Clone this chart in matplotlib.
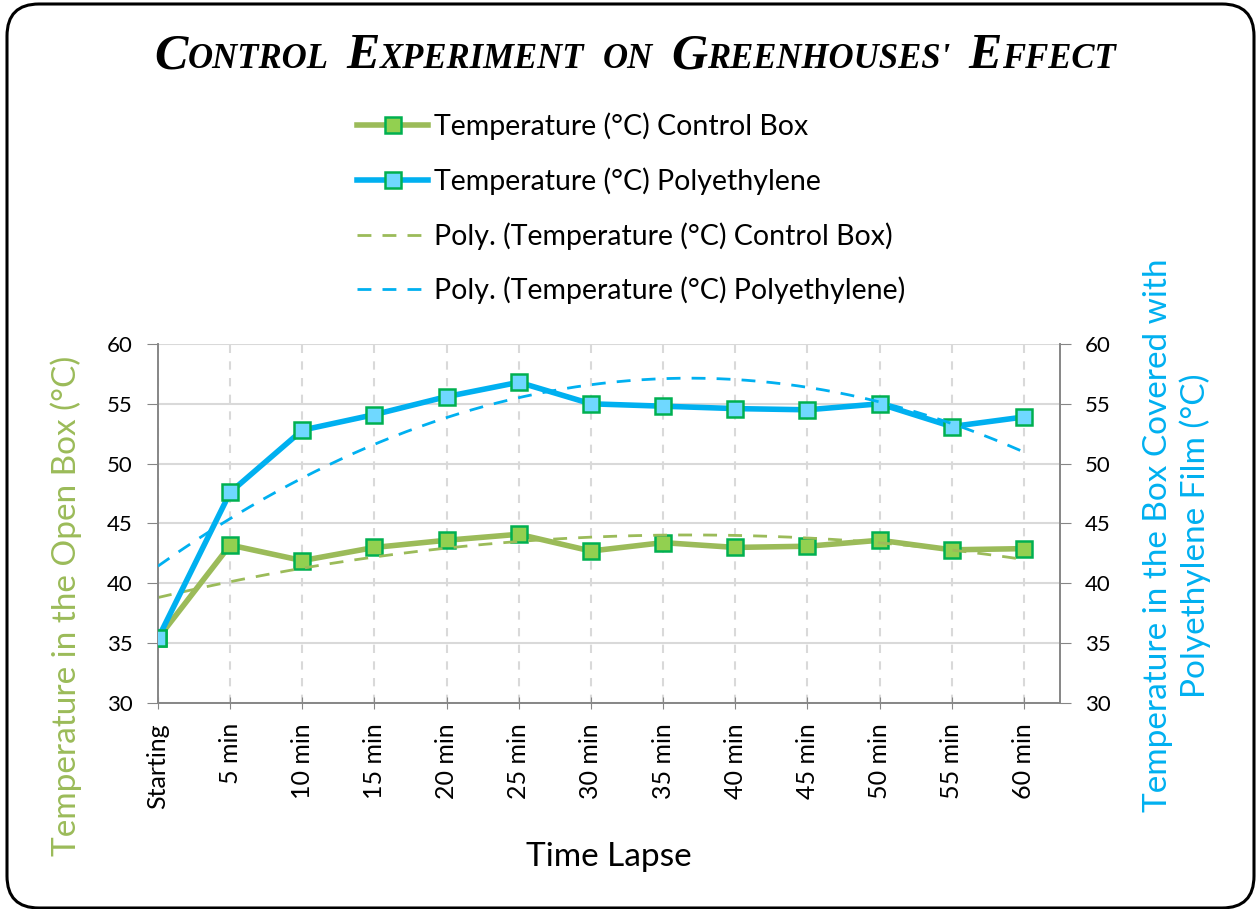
import numpy as np
import matplotlib
matplotlib.use('Agg')
import matplotlib.pyplot as plt
from matplotlib.patches import FancyBboxPatch
from matplotlib.lines import Line2D
from matplotlib.offsetbox import TextArea, HPacker, AnchoredOffsetbox

plt.rcParams['font.family'] = ['Lato', 'DejaVu Sans']

# data
categories = ['Starting', '5 min', '10 min', '15 min', '20 min', '25 min', '30 min',
              '35 min', '40 min', '45 min', '50 min', '55 min', '60 min']
control_box = [35.4, 43.2, 41.9, 43.0, 43.6, 44.1, 42.7, 43.4, 43.0, 43.1, 43.6, 42.8, 42.9]
polyethylene = [35.4, 47.6, 52.8, 54.1, 55.6, 56.8, 55.0, 54.8, 54.6, 54.5, 55.0, 53.1, 53.9]
y_ticks = [30, 35, 40, 45, 50, 55, 60]

green_line = '#9BBB59'
green_face = '#92D050'
blue_line = '#00B0F0'
blue_face = '#6FD8FF'
marker_edge = '#00B050'
grid_c = '#D9D9D9'
spine_c = '#868686'

x = np.arange(len(categories))
xs = np.linspace(0, len(categories) - 1, 200)

fig = plt.figure(figsize=(12.57, 9.09), dpi=100)

# rounded chart border
border = FancyBboxPatch((0.07, 0.01), 12.47, 9.04,
                        boxstyle='round,pad=0,rounding_size=0.32',
                        transform=fig.dpi_scale_trans, facecolor='white',
                        edgecolor='black', lw=2.2, zorder=-10)
fig.patches.append(border)

ax1 = fig.add_axes([0.1257, 0.2266, 0.7176, 0.395])
ax1.set_facecolor('none')
ax2 = ax1.twinx()

for ax in (ax1, ax2):
    ax.set_xlim(0, 12.5)
    ax.set_ylim(30, 60)
    ax.set_yticks(y_ticks)
    for s in ax.spines.values():
        s.set_color(spine_c)
        s.set_linewidth(1.2)
    ax.spines['top'].set_visible(False)

ax1.set_xticks(x)
ax1.set_xticklabels(categories, rotation=90, va='top')
ax1.tick_params(axis='x', direction='inout', length=9, color=spine_c, pad=10, labelsize=18)
ax1.tick_params(axis='y', direction='out', length=8, color=spine_c, labelsize=16, pad=10)
ax2.tick_params(axis='y', direction='out', length=8, color=spine_c, labelsize=16, pad=10)

ax1.yaxis.grid(True, color=grid_c, lw=1.5)
ax1.xaxis.grid(True, color=grid_c, lw=1.5, linestyle=(0, (4, 4)))
ax1.set_axisbelow(True)

# series
ax1.plot(x, control_box, color=green_line, lw=4, marker='s', ms=11,
         mfc=green_face, mec=marker_edge, mew=1.8, zorder=3)
ax2.plot(x, polyethylene, color=blue_line, lw=4, marker='s', ms=11,
         mfc=blue_face, mec=marker_edge, mew=1.8, zorder=3)

# order 2 polynomial trend lines (like Excel)
fit_c = np.polyfit(x, control_box, 2)
fit_p = np.polyfit(x, polyethylene, 2)
ax1.plot(xs, np.polyval(fit_c, xs), color=green_line, lw=2, dashes=(5, 4), zorder=4)
ax2.plot(xs, np.polyval(fit_p, xs), color=blue_line, lw=2, dashes=(5, 4), zorder=4)

# legend
handles = [
    Line2D([], [], color=green_line, lw=4, marker='s', ms=11, mfc=green_face, mec=marker_edge, mew=1.8),
    Line2D([], [], color=blue_line, lw=4, marker='s', ms=11, mfc=blue_face, mec=marker_edge, mew=1.8),
    Line2D([], [], color=green_line, lw=2, dashes=(5, 4)),
    Line2D([], [], color=blue_line, lw=2, dashes=(5, 4)),
]
labels = ['Temperature (°C) Control Box', 'Temperature (°C) Polyethylene',
          'Poly. (Temperature (°C) Control Box)', 'Poly. (Temperature (°C) Polyethylene)']
fig.legend(handles, labels, loc='upper left', bbox_to_anchor=(0.284, 0.876),
           frameon=False, fontsize=20.5, handlelength=2.5, handletextpad=0.2,
           labelspacing=0.95, borderpad=0, borderaxespad=0)

# axis titles
fig.text(0.0525, 0.333, 'Temperature in the Open Box (°C)', rotation=90,
         ha='center', va='center', fontsize=24, color=green_line)
fig.text(0.936, 0.411, 'Temperature in the Box Covered with\nPolyethylene Film (°C)',
         rotation=90, ha='center', va='center', multialignment='center',
         fontsize=24, color=blue_line, linespacing=1.25)
fig.text(0.4845, 0.057, 'Time Lapse', ha='center', va='center', fontsize=24)

# small caps title
title_words = [('C', 'ONTROL'), ('E', 'XPERIMENT'), ('', 'ON'), ('G', "REENHOUSES'"), ('E', 'FFECT')]
big = dict(family='Liberation Serif', weight='bold', style='italic', size=36)
small = dict(family='Liberation Serif', weight='bold', style='italic', size=25)
words = []
for first, rest in title_words:
    parts = []
    if first:
        parts.append(TextArea(first, textprops=big))
    parts.append(TextArea(rest, textprops=small))
    words.append(HPacker(children=parts, align='baseline', pad=0, sep=0))
title = HPacker(children=words, align='baseline', pad=0, sep=13)
anchored = AnchoredOffsetbox(loc='center', child=title, frameon=False, pad=0,
                             bbox_to_anchor=(0.505, 0.938), bbox_transform=fig.transFigure,
                             borderpad=0)
fig.add_artist(anchored)

fig.savefig('out.png', dpi=100)
